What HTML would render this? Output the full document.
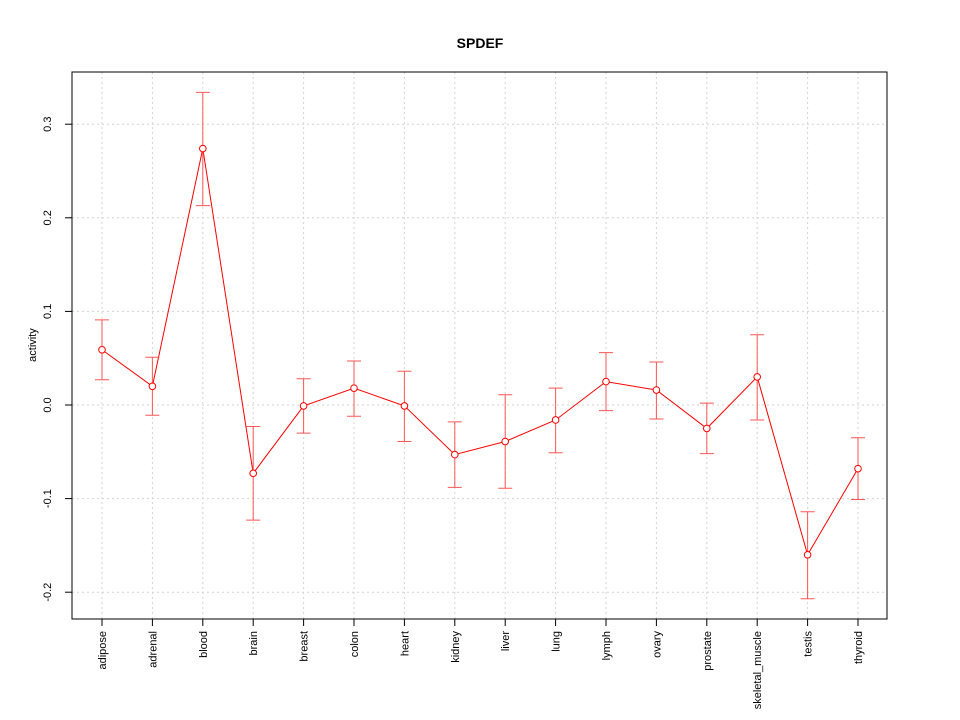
<!DOCTYPE html>
<html><head><meta charset="utf-8"><style>body{margin:0;background:#fff}svg{display:block}</style></head>
<body>
<svg id="c" width="960" height="720" xmlns="http://www.w3.org/2000/svg" font-family="Liberation Sans, sans-serif">
<text x="480" y="48" text-anchor="middle" font-weight="bold" font-size="14">SPDEF</text>
<text transform="translate(36,345) rotate(-90)" text-anchor="middle" font-size="11">activity</text>
<g id="grid"></g><g id="marks"></g><g id="axes"></g>
<rect x="72" y="72" width="815" height="547" fill="none" stroke="#000"/>
</svg>
<script>
const categories=["adipose","adrenal","blood","brain","breast","colon","heart","kidney","liver","lung","lymph","ovary","prostate","skeletal_muscle","testis","thyroid"];
const values=[0.059,0.020,0.274,-0.073,-0.001,0.018,-0.001,-0.053,-0.039,-0.016,0.025,0.016,-0.025,0.030,-0.160,-0.068];
const lower=[0.027,-0.011,0.213,-0.123,-0.030,-0.012,-0.039,-0.088,-0.089,-0.051,-0.006,-0.015,-0.052,-0.016,-0.207,-0.101];
const upper=[0.091,0.051,0.334,-0.023,0.028,0.047,0.036,-0.018,0.011,0.018,0.056,0.046,0.002,0.075,-0.114,-0.035];
const yTicks=[-0.2,-0.1,0.0,0.1,0.2,0.3];
const yTickLabels=["-0.2","-0.1","0.0","0.1","0.2","0.3"];
const NS="http://www.w3.org/2000/svg";
const xs=i=>102+i*(858-102)/(categories.length-1);
const ys=v=>405-v*936;
function mk(p,t,a){const e=document.createElementNS(NS,t);for(const k in a)e.setAttribute(k,a[k]);document.getElementById(p).appendChild(e);return e;}
categories.forEach((c,i)=>{
 const g=mk("grid","line",{x1:xs(i),x2:xs(i),y1:72,y2:619,stroke:"#d3d3d3","stroke-dasharray":"2,3"});
 
 
 const t=mk("axes","line",{x1:xs(i),x2:xs(i),y1:619,y2:626,stroke:"#000"});
 
 
 const l=mk("axes","text",{transform:`translate(${xs(i)+4},631) rotate(-90)`,"text-anchor":"end","font-size":"11"});
 l.textContent=c;
 
 
});
yTicks.forEach((v,i)=>{
 const g=mk("grid","line",{x1:72,x2:887,y1:ys(v),y2:ys(v),stroke:"#d3d3d3","stroke-dasharray":"2,3"});
 
 
 const t=mk("axes","line",{x1:65,x2:72,y1:ys(v),y2:ys(v),stroke:"#000"});
 
 
 const l=mk("axes","text",{transform:`translate(51,${ys(v)}) rotate(-90)`,"text-anchor":"middle","font-size":"11"});
 l.textContent=yTickLabels[i];
 
 
});
const line=mk("marks","polyline",{points:values.map((v,i)=>xs(i)+","+ys(v)).join(" "),fill:"none",stroke:"#ff0000"});


values.forEach((v,i)=>{
 const x=xs(i);
 const b=mk("marks","path",{d:`M${x},${ys(lower[i])}V${ys(upper[i])}M${x-7},${ys(lower[i])}H${x+7}M${x-7},${ys(upper[i])}H${x+7}`,stroke:"#ff5555",fill:"none"});
 
 
 const p=mk("marks","circle",{cx:x,cy:ys(v),r:3.3,fill:"#fff",stroke:"#ff0000"});
 
 
});
</script>
</body></html>
